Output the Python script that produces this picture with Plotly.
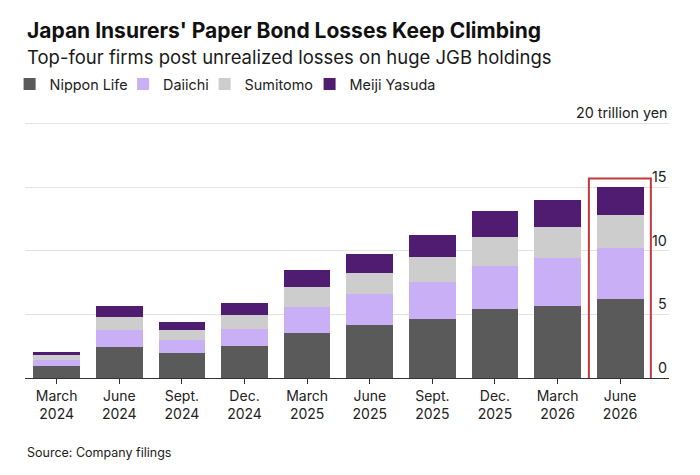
import plotly.graph_objects as go

categories = ["March<br>2024", "June<br>2024", "Sept.<br>2024", "Dec.<br>2024", "March<br>2025",
              "June<br>2025", "Sept.<br>2025", "Dec.<br>2025", "March<br>2026", "June<br>2026"]

nippon_life = [0.98, 2.42, 1.98, 2.50, 3.54, 4.14, 4.63, 5.39, 5.67, 6.22]
daiichi     = [0.45, 1.35, 1.04, 1.38, 2.06, 2.45, 2.89, 3.38, 3.78, 4.01]
sumitomo    = [0.41, 1.02, 0.75, 1.07, 1.53, 1.69, 1.98, 2.27, 2.42, 2.55]
meiji_yasuda = [0.21, 0.86, 0.63, 0.93, 1.35, 1.49, 1.72, 2.11, 2.11, 2.24]

series_names = ["Nippon Life", "Daiichi", "Sumitomo", "Meiji Yasuda"]
series_values = [nippon_life, daiichi, sumitomo, meiji_yasuda]
series_colors = ["#5a5a5a", "#c9aff5", "#cdcdcd", "#4f1c72"]

y_tickvals = [0, 5, 10, 15, 20]
y_ticktext = ["0", "5", "10", "15", "20 trillion yen"]

FONT = "Inter"

# one legend box per series so the entries sit where they do in the original
legend_ids = ["legend", "legend2", "legend3", "legend4"]
legend_x = [-0.0239, 0.1523, 0.2789, 0.4419]

fig = go.Figure()
xs = list(range(len(categories)))
for name, vals, col, lid in zip(series_names, series_values, series_colors, legend_ids):
    fig.add_trace(go.Bar(x=xs, y=vals, name=name, legend=lid,
                         marker=dict(color=col, line=dict(width=0))))

# highlight box around latest bar
last = len(categories) - 1
last_total = sum(v[last] for v in series_values)
fig.add_shape(type="rect", xref="x", yref="y", x0=last - 0.5, x1=last + 0.49,
              y0=-0.13, y1=last_total + 0.65, line=dict(color="#c4383a", width=2),
              fillcolor="rgba(0,0,0,0)", layer="above")

legend_common = dict(orientation="h", xanchor="left", y=1.0686, yanchor="middle",
                     font=dict(size=14.4, color="#222222", family=FONT),
                     itemclick=False, itemdoubleclick=False, bgcolor="rgba(0,0,0,0)")
legend_layout = {lid: dict(x=lx, **legend_common) for lid, lx in zip(legend_ids, legend_x)}

annotations = [
    dict(text="<b>Japan Insurers' Paper Bond Losses Keep Climbing</b>", xref="paper", yref="paper",
         x=0, y=1.2629, xanchor="left", yanchor="middle", showarrow=False,
         font=dict(size=21, color="#111111", family=FONT)),
    dict(text="Top-four firms post unrealized losses on huge JGB holdings", xref="paper", yref="paper",
         x=0, y=1.1667, xanchor="left", yanchor="middle", showarrow=False,
         font=dict(size=18.5, color="#1a1a1a", family=FONT)),
    dict(text="Source: Company filings", xref="paper", yref="paper",
         x=0, y=-0.2712, xanchor="left", yanchor="middle", showarrow=False,
         font=dict(size=12.5, color="#222222", family=FONT)),
]
# y-axis labels sit inside the plot, right-aligned, just above each gridline
for tv, tt in zip(y_tickvals, y_ticktext):
    annotations.append(dict(text=tt, xref="paper", yref="y", x=1, y=tv,
                            xanchor="right", yanchor="bottom", showarrow=False,
                            font=dict(size=14.3, color="#222222", family=FONT)))

fig.update_layout(
    width=700, height=475,
    margin=dict(l=17, r=39, t=95, b=105, autoexpand=False),
    paper_bgcolor="white", plot_bgcolor="white",
    barmode="stack", bargap=0.254,
    font=dict(family=FONT, color="#222222", size=14),
    showlegend=True,
    **legend_layout,
    xaxis=dict(tickmode="array", tickvals=xs, ticktext=categories, range=[-0.506, 9.78],
               showline=True, linecolor="#333333", linewidth=1.2,
               ticks="outside", ticklen=5, tickcolor="#333333", tickwidth=1,
               showgrid=False, zeroline=False, tickfont=dict(size=14, color="#222222")),
    yaxis=dict(range=[0, 21.6], side="right", tickmode="array", tickvals=y_tickvals,
               showticklabels=False,
               showgrid=True, gridcolor="#e2e2e2", gridwidth=1, zeroline=False,
               showline=False, ticks=""),
    annotations=annotations,
)

fig.write_html("out.html")
